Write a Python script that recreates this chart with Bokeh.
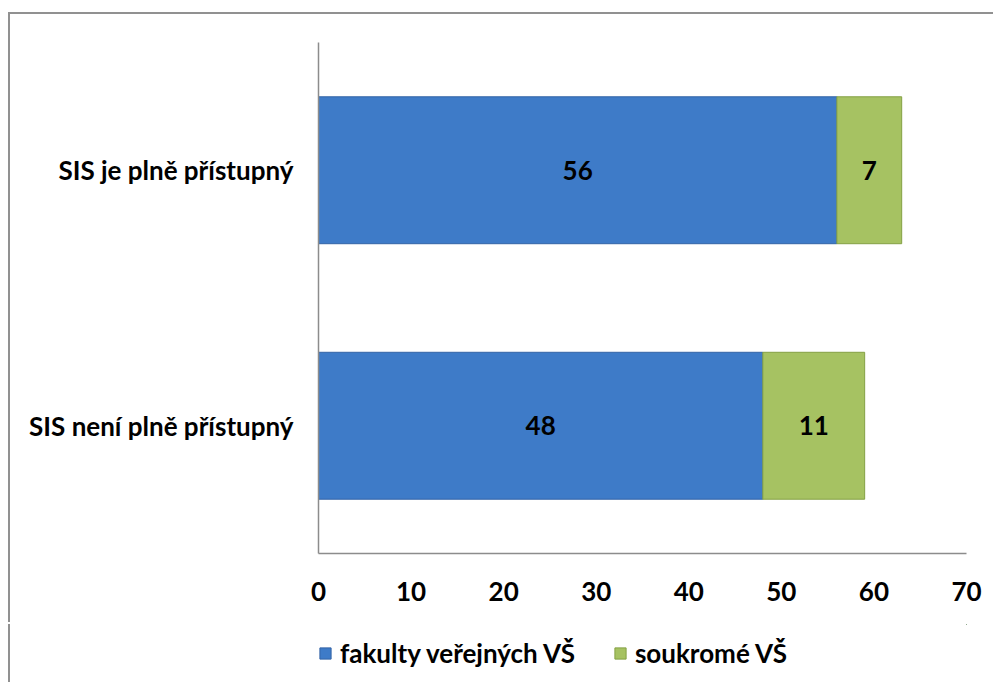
from bokeh.plotting import figure
from bokeh.layouts import column
from bokeh.models import FactorRange, Range1d, ColumnDataSource, Legend, LegendItem, FixedTicker, LabelSet
from bokeh.core.properties import value
from bokeh.embed import file_html
from bokeh.resources import INLINE

# Data (bottom-to-top order)
categories = ["SIS není plně přístupný", "SIS je plně přístupný"]
public = [48, 56]
private = [11, 7]
series_names = ["fakulty veřejných VŠ", "soukromé VŠ"]
x_ticks = [0, 10, 20, 30, 40, 50, 60, 70]

FONT_NAME = "Lato"
FONT = value(FONT_NAME)
FS = "26px"
BLUE = "#3e7bc8"
BLUE_EDGE = "#3364a6"
GREEN = "#a6c262"
GREEN_EDGE = "#84a044"
BORDER = "#919191"

src = ColumnDataSource(dict(
    cat=categories,
    pub=public,
    priv=private,
    pub_end=public,
    priv_end=[a + b for a, b in zip(public, private)],
    pub_mid=[a / 2 for a in public],
    priv_mid=[a + b / 2 for a, b in zip(public, private)],
    pub_txt=[str(v) for v in public],
    priv_txt=[str(v) for v in private],
))

p = figure(width=985, height=610,
           y_range=FactorRange(*categories), x_range=Range1d(0, 70),
           output_backend="svg", toolbar_location=None,
           min_border_left=308, min_border_top=28,
           min_border_right=29, min_border_bottom=71)
p.margin = (14, 0, 0, 10)
p.styles = {"box-shadow": f"-2px -2px 0 0 {BORDER}"}

p.outline_line_color = None
p.xgrid.grid_line_color = None
p.ygrid.grid_line_color = None
p.background_fill_color = "white"
p.border_fill_color = "white"

r1 = p.hbar(y="cat", left=0, right="pub_end", height=0.575, source=src,
            fill_color=BLUE, line_color=BLUE_EDGE, line_width=1)
r2 = p.hbar(y="cat", left="pub_end", right="priv_end", height=0.575, source=src,
            fill_color=GREEN, line_color=GREEN_EDGE, line_width=1)

for xcol, tcol in (("pub_mid", "pub_txt"), ("priv_mid", "priv_txt")):
    p.add_layout(LabelSet(x=xcol, y="cat", text=tcol, source=src,
                          text_align="center", text_baseline="middle",
                          text_font=FONT, text_font_style="bold",
                          text_font_size=FS, text_color="black"))

# axes
p.xaxis.ticker = FixedTicker(ticks=x_ticks)
for ax in (p.xaxis[0], p.yaxis[0]):
    ax.axis_line_color = "#8c8c8c"
    ax.axis_line_width = 1.5
    ax.major_tick_line_color = None
    ax.minor_tick_line_color = None
    ax.major_tick_out = 0
    ax.major_tick_in = 0
    ax.major_label_text_font = FONT_NAME
    ax.major_label_text_font_style = "bold"
    ax.major_label_text_font_size = FS
    ax.major_label_text_color = "black"
p.xaxis.major_label_standoff = 28
p.yaxis.major_label_standoff = 25

# legend strip (separate figure below the chart); its renderers use the same data,
# but lie entirely outside this strip's (0..1) ranges so only the legend swatches show
leg = figure(width=985, height=58, x_range=Range1d(0, 1), y_range=Range1d(0, 1),
             x_axis_type=None, y_axis_type=None,
             output_backend="svg", toolbar_location=None,
             min_border_left=0, min_border_right=0, min_border_top=0, min_border_bottom=0)
leg.margin = (0, 0, 0, 10)
leg.styles = {"box-shadow": f"-2px 0 0 0 {BORDER}"}
leg.outline_line_color = None
leg.border_fill_color = "white"
leg.background_fill_color = "white"
lr1 = leg.hbar(y="pub", left="pub_end", right="priv_end", height=0.5, source=src,
               fill_color=BLUE, line_color=BLUE_EDGE)
lr2 = leg.hbar(y="pub", left="pub_end", right="priv_end", height=0.5, source=src,
               fill_color=GREEN, line_color=GREEN_EDGE)

legend = Legend(items=[LegendItem(label=series_names[0], renderers=[lr1], index=0),
                       LegendItem(label=series_names[1], renderers=[lr2], index=0)],
                orientation="horizontal", location="center_left",
                glyph_width=14, glyph_height=14, label_standoff=8, spacing=38,
                padding=0, margin=0, border_line_color=None,
                background_fill_alpha=0,
                label_text_font=FONT_NAME, label_text_font_style="bold",
                label_text_font_size=FS, label_text_color="black")
leg.add_layout(legend, "center")

open("out.html", "w").write(file_html(column(p, leg, spacing=0), INLINE))
